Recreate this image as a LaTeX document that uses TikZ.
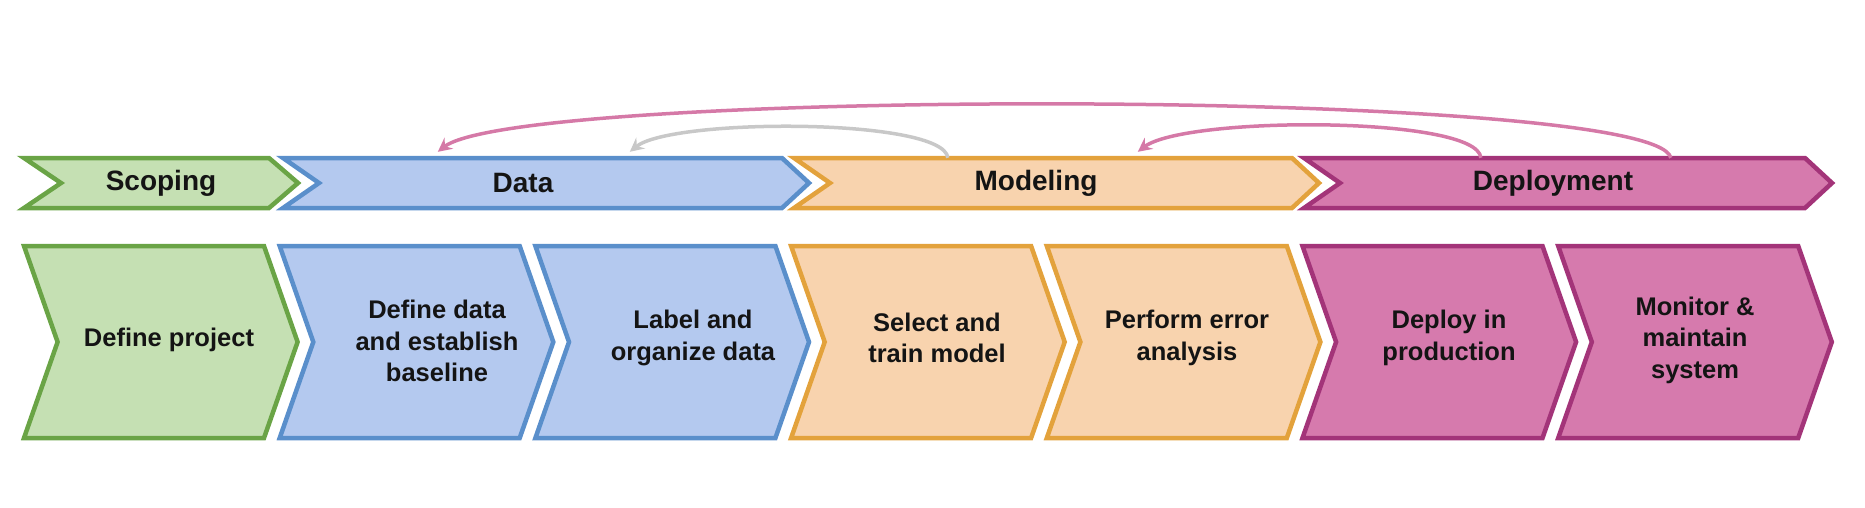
\documentclass[tikz,border=0pt]{standalone}
\usepackage{fontspec}
\setmainfont{Liberation Sans}
\usetikzlibrary{arrows.meta}
\definecolor{grfill}{HTML}{C5E0B3}
\definecolor{grline}{HTML}{6AA446}
\definecolor{blfill}{HTML}{B4C9EF}
\definecolor{blline}{HTML}{5A8FCB}
\definecolor{orfill}{HTML}{F8D3AE}
\definecolor{orline}{HTML}{E3A23C}
\definecolor{mgfill}{HTML}{D67AAD}
\definecolor{mgline}{HTML}{A33479}
\definecolor{pkarc}{HTML}{D579A7}
\definecolor{gyarc}{HTML}{C8C8C8}
\definecolor{txt}{HTML}{141414}
% #1 name, #2 left, #3 tip, #4 top, #5 bottom, #6 tip depth, #7 notch depth, #8 style
\newcommand\chev[8]{%
  \path[#8] (#2,#4) -- ({#3-#6},#4) -- (#3,{(#4+#5)/2}) -- ({#3-#6},#5) -- (#2,#5) -- ({#2+#7},{(#4+#5)/2}) -- cycle;
  \node[box, minimum width={(#3-#2)*1pt}, minimum height={(#5-#4)*1pt}] (#1) at ({(#2+#3)/2},{(#4+#5)/2}) {};}
\begin{document}
\begin{tikzpicture}[x=1pt,y=-1pt,
  box/.style={inner sep=0pt, draw=none},
  shp/.style={line width=4.5pt},
  green/.style={shp, fill=grfill, draw=grline},
  blue/.style={shp, fill=blfill, draw=blline},
  orange/.style={shp, fill=orfill, draw=orline},
  magenta/.style={shp, fill=mgfill, draw=mgline},
  toptxt/.style={text=txt, font=\fontsize{28}{34}\selectfont\bfseries, inner sep=0pt},
  bottxt/.style={text=txt, font=\fontsize{25.5}{31.5}\selectfont\bfseries, align=center, inner sep=0pt},
  loop/.style={line width=3.5pt, -{Stealth[length=14pt,width=14pt,inset=5pt]}},
]
\useasboundingbox (0,0) rectangle (1865,508);
% top row
\chev{scoping}{24}{298}{158}{208}{29}{37}{green}
\chev{data}{283}{809}{158}{208}{27}{36}{blue}
\chev{modeling}{794}{1319}{158}{208}{27}{36}{orange}
\chev{deployment}{1304}{1832}{158}{208}{27}{36}{magenta}
\node[toptxt] (tscoping) at (161,183) {Scoping};
\node[toptxt] (tdata) at (523,183) {Data};
\node[toptxt] (tmodeling) at (1036,183) {Modeling};
\node[toptxt] (tdeployment) at (1553,183) {Deployment};
% bottom row
\chev{s1}{24}{297.6}{246}{438}{33.6}{33.6}{green}
\chev{s2}{279.7}{553.3}{246}{438}{33.6}{33.6}{blue}
\chev{s3}{535.4}{809.0}{246}{438}{33.6}{33.6}{blue}
\chev{s4}{791.1}{1064.7}{246}{438}{33.6}{33.6}{orange}
\chev{s5}{1046.8}{1320.4}{246}{438}{33.6}{33.6}{orange}
\chev{s6}{1302.5}{1576.1}{246}{438}{33.6}{33.6}{magenta}
\chev{s7}{1558.2}{1831.8}{246}{438}{33.6}{33.6}{magenta}
\node[bottxt] (t1) at (169,340) {Define project};
\node[bottxt] (t2) at (437,341) {Define data\\and establish\\baseline};
\node[bottxt] (t3) at (693,338) {Label and\\organize data};
\node[bottxt] (t4) at (937,338) {Select and\\train model};
\node[bottxt] (t5) at (1187,338) {Perform error\\analysis};
\node[bottxt] (t6) at (1449,338) {Deploy in\\production};
\node[bottxt] (t7) at (1695,340) {Monitor \&\\maintain\\system};
% feedback loops
\draw[loop, draw=pkarc] ([xshift=367pt]deployment.north west) .. controls +(-16,-70) and +(82,-64) .. ([xshift=155pt,yshift=6pt]data.north west);
\draw[loop, draw=gyarc] ([xshift=154pt]modeling.north west) .. controls +(-4,-40) and +(42,-34) .. ([xshift=347pt,yshift=6pt]data.north west);
\draw[loop, draw=pkarc] ([xshift=177pt]deployment.north west) .. controls +(-3,-42) and +(47,-36) .. ([xshift=344pt,yshift=6pt]modeling.north west);
\end{tikzpicture}
\end{document}
